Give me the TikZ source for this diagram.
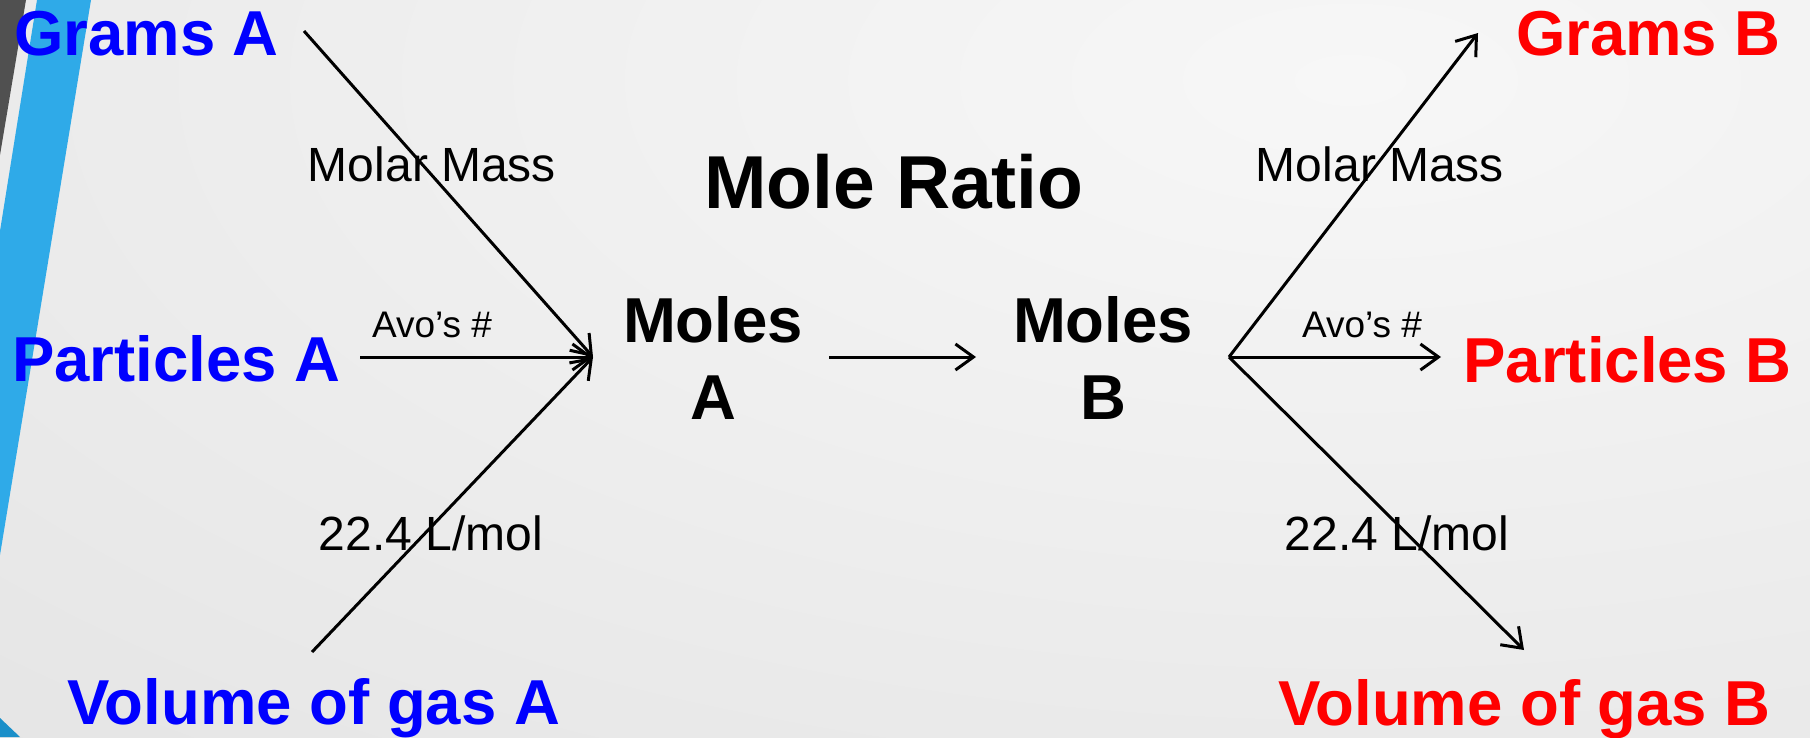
\documentclass[tikz,border=0pt]{standalone}
\usepackage{fontspec}
\setmainfont{Liberation Sans}
\usetikzlibrary{arrows.meta}

\definecolor{bgin}{RGB}{247,247,247}
\definecolor{bgout}{RGB}{204,204,204}
\definecolor{darkstripe}{RGB}{80,80,80}
\definecolor{bluestripe}{RGB}{47,170,232}
\definecolor{bluecorner}{RGB}{26,143,201}
\definecolor{srcblue}{RGB}{0,0,255}
\definecolor{dstred}{RGB}{255,0,0}
\pgfdeclareradialshading{bgshade}{\pgfpoint{0bp}{0bp}}{color(0bp)=(bgin); color(50bp)=(bgout)}

\tikzset{
  big/.style={font=\fontsize{63.5}{77}\selectfont\bfseries, inner sep=0pt},
  srcA/.style={big, text=srcblue},
  dstB/.style={big, text=dstred},
  conv/.style={font=\fontsize{48}{57}\selectfont, inner sep=0pt},
  avo/.style={font=\fontsize{37}{44}\selectfont, inner sep=0pt},
  conn/.style={line width=3pt, -{Straight Barb[length=18pt,width=26pt]}}
}

\begin{document}
\begin{tikzpicture}[x=1pt,y=-1pt]
\useasboundingbox (0,0) rectangle (1810,737);

% background and left-edge stripes
\begin{scope}
  \clip (0,0) rectangle (1810,737);
  \shade[shading=bgshade] (-1050,-1020) rectangle (3750,1180);
  \fill[darkstripe] (0,0) -- (26,0) -- (0,155) -- cycle;
  \fill[bluestripe] (37,0) -- (91,0) -- (0,555) -- (0,231) -- cycle;
  \fill[bluecorner] (0,718) -- (20,737) -- (0,737) -- cycle;
\end{scope}

% quantities of substance A
\node[srcA, anchor=base west] (gA) at (14,55) {Grams A};
\node[srcA, anchor=base west] (pA) at (12,381) {Particles A};
\node[srcA, anchor=base west] (vA) at (67,724) {Volume of gas A};

% quantities of substance B
\node[dstB, anchor=base east] (gB) at (1781,55) {Grams B};
\node[dstB, anchor=base east] (pB) at (1792,382) {Particles B};
\node[dstB, anchor=base east] (vB) at (1771,725) {Volume of gas B};

% moles (base anchor sits on the second line)
\node[big, align=center, anchor=base] (mA) at (713,419) {Moles\\A};
\node[big, align=center, anchor=base] (mB) at (1103,419) {Moles\\B};
\node[font=\fontsize{75}{90}\selectfont\bfseries, inner sep=0pt, anchor=base] (ratio) at (894,208) {Mole Ratio};

% conversion factors
\node[conv, anchor=base] (mmA) at (432,181) {Molar Mass};
\node[avo, anchor=base] (avA) at (432,337) {Avo’s \#};
\node[conv, anchor=base] (vmA) at (431,550) {22.4 L/mol};
\node[conv, anchor=base] (mmB) at (1380,181) {Molar Mass};
\node[avo, anchor=base] (avB) at (1362,337) {Avo’s \#};
\node[conv, anchor=base] (vmB) at (1397,550) {22.4 L/mol};

% arrow end points
\coordinate (gA-out) at (304,31);
\coordinate (pA-out) at (360,357);
\coordinate (vA-out) at (312,652);
\coordinate (mA-in) at (593,357);
\coordinate (mA-out) at (829,357);
\coordinate (mB-in) at (976,357);
\coordinate (mB-out) at (1229,357);
\coordinate (gB-in) at (1478,33);
\coordinate (pB-in) at (1441,357);
\coordinate (vB-in) at (1524,650);

% conversions
\draw[conn] (gA-out) -- (mA-in);
\draw[conn] (pA-out) -- (mA-in);
\draw[conn] (vA-out) -- (mA-in);
\draw[conn] (mA-out) -- (mB-in);
\draw[conn] (mB-out) -- (gB-in);
\draw[conn] (mB-out) -- (pB-in);
\draw[conn] (mB-out) -- (vB-in);
\end{tikzpicture}
\end{document}
